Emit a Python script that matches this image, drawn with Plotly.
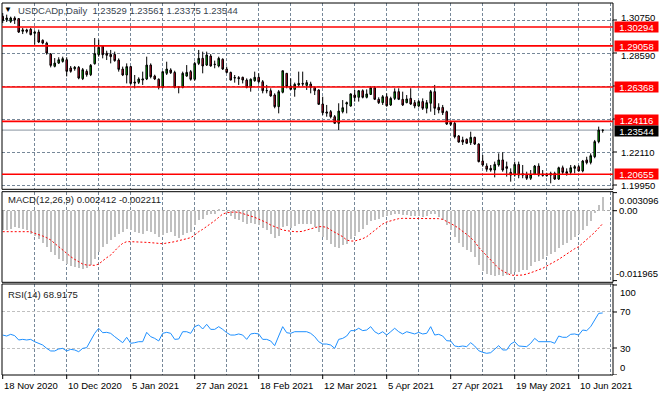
import plotly.graph_objects as go

# ---------------- data ----------------
open_ = [1.3099,1.3077,1.3066,1.3088,1.3084,1.3001,1.3010,1.3014,1.2988,1.2996,
1.2942,1.2924,1.2852,1.2772,1.2793,1.2804,1.2815,1.2761,1.2756,1.2765,
1.2691,1.2739,1.2717,1.2789,1.2848,1.2903,1.2857,1.2850,1.2850,1.2813,
1.2754,1.2715,1.2770,1.2669,1.2667,1.2682,1.2689,1.2780,1.2708,1.2687,
1.2634,1.2726,1.2748,1.2732,1.2634,1.2634,1.2708,1.2737,1.2687,1.2791,
1.2824,1.2780,1.2839,1.2783,1.2774,1.2818,1.2754,1.2732,1.2695,1.2698,
1.2700,1.2682,1.2634,1.2678,1.2700,1.2671,1.2612,1.2612,1.2584,1.2508,
1.2602,1.2726,1.2643,1.2621,1.2650,1.2660,1.2647,1.2656,1.2634,1.2617,
1.2525,1.2473,1.2475,1.2442,1.2399,1.2475,1.2525,1.2512,1.2584,1.2569,
1.2612,1.2569,1.2588,1.2632,1.2556,1.2534,1.2573,1.2519,1.2562,1.2606,
1.2556,1.2534,1.2562,1.2534,1.2512,1.2541,1.2497,1.2530,1.2606,1.2503,
1.2503,1.2475,1.2405,1.2399,1.2316,1.2290,1.2294,1.2272,1.2307,1.2263,
1.2152,1.2119,1.2104,1.2093,1.2126,1.2159,1.2115,1.2078,1.2060,1.2130,
1.2069,1.2065,1.2039,1.2065,1.2119,1.2067,1.2067,1.2071,1.2071,1.2034,
1.2108,1.2082,1.2078,1.2104,1.2115,1.2087,1.2159,1.2143,1.2180,1.2279,
1.23529]
high_ = [1.3121,1.3110,1.3097,1.3099,1.3088,1.3023,1.3018,1.3023,1.3005,1.3012,
1.2948,1.2933,1.2859,1.2826,1.2831,1.2835,1.2831,1.2774,1.2774,1.2774,
1.2761,1.2752,1.2787,1.2957,1.2946,1.2911,1.2874,1.2879,1.2868,1.2824,
1.2770,1.2791,1.2774,1.2715,1.2700,1.2737,1.2835,1.2791,1.2717,1.2693,
1.2737,1.2802,1.2759,1.2743,1.2643,1.2737,1.2780,1.2748,1.2802,1.2879,
1.2868,1.2868,1.2852,1.2809,1.2835,1.2824,1.2770,1.2737,1.2715,1.2708,
1.2704,1.2693,1.2693,1.2737,1.2726,1.2682,1.2650,1.2628,1.2595,1.2617,
1.2743,1.2728,1.2693,1.2665,1.2737,1.2737,1.2682,1.2671,1.2639,1.2621,
1.2573,1.2519,1.2486,1.2453,1.2530,1.2551,1.2541,1.2595,1.2617,1.2617,
1.2621,1.2621,1.2643,1.2643,1.2569,1.2584,1.2595,1.2573,1.2628,1.2628,
1.2606,1.2584,1.2628,1.2551,1.2551,1.2562,1.2551,1.2617,1.2650,1.2530,
1.2519,1.2482,1.2410,1.2410,1.2322,1.2311,1.2300,1.2344,1.2311,1.2268,
1.2191,1.2137,1.2126,1.2148,1.2202,1.2209,1.2148,1.2104,1.2148,1.2148,
1.2126,1.2082,1.2093,1.2126,1.2137,1.2093,1.2075,1.2082,1.2082,1.2115,
1.2122,1.2104,1.2126,1.2126,1.2126,1.2159,1.2180,1.2202,1.2290,1.2377,
1.23561]
low_ = [1.3055,1.3062,1.3055,1.3049,1.2990,1.2983,1.2988,1.2975,1.2914,1.2924,
1.2916,1.2848,1.2765,1.2765,1.2787,1.2796,1.2706,1.2730,1.2743,1.2687,
1.2682,1.2704,1.2708,1.2783,1.2835,1.2824,1.2813,1.2791,1.2802,1.2737,
1.2708,1.2660,1.2652,1.2628,1.2656,1.2650,1.2682,1.2693,1.2682,1.2621,
1.2628,1.2715,1.2722,1.2628,1.2595,1.2628,1.2704,1.2678,1.2678,1.2780,
1.2726,1.2774,1.2770,1.2759,1.2765,1.2748,1.2726,1.2680,1.2665,1.2650,
1.2660,1.2628,1.2606,1.2671,1.2660,1.2595,1.2595,1.2573,1.2497,1.2464,
1.2595,1.2628,1.2617,1.2573,1.2639,1.2643,1.2617,1.2595,1.2584,1.2519,
1.2453,1.2442,1.2431,1.2397,1.2355,1.2464,1.2464,1.2508,1.2541,1.2541,
1.2562,1.2562,1.2584,1.2551,1.2525,1.2519,1.2508,1.2512,1.2551,1.2551,
1.2512,1.2530,1.2519,1.2497,1.2503,1.2486,1.2464,1.2475,1.2453,1.2464,
1.2453,1.2388,1.2381,1.2300,1.2272,1.2257,1.2263,1.2257,1.2257,1.2143,
1.2115,1.2082,1.2082,1.2045,1.2115,1.2082,1.2050,1.2017,1.2050,1.2039,
1.2039,1.2028,1.2028,1.2060,1.2050,1.2050,1.2050,1.2006,1.2028,1.2028,
1.2065,1.2056,1.2060,1.2071,1.2082,1.2078,1.2130,1.2130,1.2170,1.2268,
1.23375]
close_ = [1.3071,1.3088,1.3088,1.3075,1.2996,1.3010,1.3001,1.2979,1.2996,1.2931,
1.2924,1.2859,1.2778,1.2793,1.2815,1.2822,1.2739,1.2739,1.2765,1.2695,
1.2750,1.2717,1.2778,1.2855,1.2896,1.2848,1.2844,1.2835,1.2809,1.2752,
1.2715,1.2770,1.2660,1.2663,1.2689,1.2689,1.2780,1.2704,1.2689,1.2634,
1.2737,1.2754,1.2730,1.2634,1.2635,1.2726,1.2732,1.2687,1.2791,1.2824,
1.2774,1.2846,1.2774,1.2785,1.2824,1.2754,1.2732,1.2682,1.2698,1.2691,
1.2682,1.2634,1.2687,1.2700,1.2671,1.2612,1.2613,1.2578,1.2508,1.2606,
1.2743,1.2639,1.2621,1.2654,1.2660,1.2656,1.2665,1.2634,1.2612,1.2523,
1.2468,1.2466,1.2442,1.2399,1.2479,1.2501,1.2534,1.2591,1.2567,1.2612,
1.2569,1.2591,1.2632,1.2556,1.2534,1.2573,1.2514,1.2562,1.2606,1.2556,
1.2519,1.2558,1.2525,1.2512,1.2541,1.2497,1.2534,1.2606,1.2497,1.2486,
1.2468,1.2394,1.2392,1.2311,1.2276,1.2276,1.2268,1.2307,1.2263,1.2148,
1.2126,1.2098,1.2093,1.2130,1.2159,1.2093,1.2104,1.2060,1.2130,1.2060,
1.2060,1.2039,1.2065,1.2119,1.2060,1.2058,1.2056,1.2060,1.2034,1.2108,
1.2078,1.2071,1.2108,1.2115,1.2087,1.2152,1.2141,1.2187,1.2279,1.2355,
1.23544]

macd_hist = [-0.00319,-0.00319,-0.00302,-0.00273,-0.00285,-0.00302,-0.00319,-0.00388,-0.00433,-0.00473,
-0.00547,-0.00616,-0.00702,-0.00759,-0.00816,-0.00856,-0.00913,-0.00947,-0.00958,-0.00981,
-0.00993,-0.00970,-0.00930,-0.00816,-0.00702,-0.00616,-0.00559,-0.00502,-0.00445,-0.00388,
-0.00359,-0.00302,-0.00330,-0.00359,-0.00376,-0.00388,-0.00342,-0.00359,-0.00388,-0.00445,
-0.00416,-0.00376,-0.00359,-0.00433,-0.00456,-0.00416,-0.00376,-0.00359,-0.00245,-0.00159,
-0.00131,-0.00074,-0.00057,-0.00045,0.00041,0.00000,-0.00034,-0.00091,-0.00131,-0.00159,
-0.00188,-0.00216,-0.00205,-0.00216,-0.00245,-0.00285,-0.00330,-0.00388,-0.00456,-0.00433,
-0.00273,-0.00262,-0.00285,-0.00262,-0.00228,-0.00216,-0.00216,-0.00228,-0.00273,-0.00359,
-0.00445,-0.00502,-0.00559,-0.00616,-0.00627,-0.00587,-0.00559,-0.00473,-0.00433,-0.00359,
-0.00302,-0.00245,-0.00171,-0.00148,-0.00131,-0.00102,-0.00091,-0.00074,-0.00057,-0.00057,
-0.00074,-0.00074,-0.00079,-0.00091,-0.00091,-0.00102,-0.00091,-0.00045,-0.00057,-0.00102,
-0.00159,-0.00245,-0.00330,-0.00445,-0.00547,-0.00616,-0.00673,-0.00702,-0.00787,-0.00930,
-0.01027,-0.01073,-0.01101,-0.01118,-0.01101,-0.01118,-0.01101,-0.01084,-0.01044,-0.01044,
-0.01015,-0.01004,-0.00947,-0.00873,-0.00856,-0.00816,-0.00776,-0.00741,-0.00702,-0.00627,
-0.00587,-0.00547,-0.00490,-0.00445,-0.00399,-0.00319,-0.00262,-0.00171,-0.00034,0.00098,
0.002412]
macd_signal = [-0.00359,-0.00359,-0.00359,-0.00359,-0.00359,-0.00359,-0.00359,-0.00359,-0.00388,-0.00405,
-0.00433,-0.00462,-0.00502,-0.00559,-0.00616,-0.00684,-0.00730,-0.00787,-0.00833,-0.00873,
-0.00913,-0.00930,-0.00935,-0.00935,-0.00913,-0.00856,-0.00804,-0.00759,-0.00684,-0.00616,
-0.00559,-0.00530,-0.00530,-0.00530,-0.00536,-0.00536,-0.00542,-0.00547,-0.00547,-0.00559,
-0.00565,-0.00559,-0.00542,-0.00530,-0.00513,-0.00502,-0.00485,-0.00462,-0.00416,-0.00359,
-0.00319,-0.00273,-0.00216,-0.00171,-0.00114,-0.00057,-0.00034,-0.00022,-0.00022,-0.00028,
-0.00045,-0.00062,-0.00091,-0.00114,-0.00142,-0.00171,-0.00205,-0.00245,-0.00273,-0.00308,
-0.00330,-0.00342,-0.00353,-0.00359,-0.00359,-0.00353,-0.00330,-0.00308,-0.00291,-0.00273,
-0.00273,-0.00285,-0.00330,-0.00370,-0.00405,-0.00445,-0.00502,-0.00519,-0.00519,-0.00502,
-0.00479,-0.00445,-0.00388,-0.00342,-0.00285,-0.00228,-0.00193,-0.00171,-0.00148,-0.00136,
-0.00131,-0.00131,-0.00131,-0.00131,-0.00131,-0.00131,-0.00131,-0.00131,-0.00131,-0.00136,
-0.00148,-0.00182,-0.00216,-0.00256,-0.00302,-0.00348,-0.00405,-0.00462,-0.00530,-0.00627,
-0.00702,-0.00776,-0.00844,-0.00913,-0.00987,-0.01033,-0.01073,-0.01101,-0.01107,-0.01107,
-0.01101,-0.01084,-0.01067,-0.01038,-0.01010,-0.00987,-0.00947,-0.00913,-0.00873,-0.00833,
-0.00787,-0.00741,-0.00690,-0.00650,-0.00616,-0.00559,-0.00502,-0.00433,-0.00370,-0.00296,
-0.002211]
rsi = [44.4,43.3,45.2,43.7,38.9,39.6,38.9,39.6,37.0,35.2,
33.3,29.6,26.7,26.7,28.9,29.6,26.7,28.5,27.8,25.9,
29.6,30.4,38.9,46.3,51.9,47.0,47.4,46.3,42.6,38.9,
35.9,41.9,35.2,35.9,37.0,37.0,47.4,42.6,40.7,37.8,
46.3,47.4,46.3,39.6,40.0,48.1,48.1,46.3,53.7,55.6,
51.1,56.3,50.7,50.7,53.7,50.7,47.0,44.4,44.4,45.6,
44.4,39.6,45.6,46.3,45.6,39.6,39.6,37.8,32.6,43.3,
53.7,47.0,46.3,48.1,48.1,48.1,48.1,46.3,42.6,37.0,
34.4,34.4,33.3,29.6,39.6,40.7,43.3,49.3,49.3,51.9,
49.3,50.0,53.7,48.1,45.6,48.1,44.4,48.1,51.9,48.1,
45.6,48.1,47.0,45.6,47.4,45.6,46.3,53.7,44.4,45.2,
43.3,38.1,37.8,32.2,31.5,32.2,31.5,35.9,32.2,27.0,
25.2,24.1,24.8,28.5,32.6,27.8,27.8,34.4,37.0,32.2,
32.2,31.5,35.2,40.7,37.0,37.0,37.8,37.0,35.2,43.3,
41.9,41.9,45.2,45.6,44.4,50.0,49.3,53.7,61.1,68.5,
68.9175]

date_labels = ["18 Nov 2020", "10 Dec 2020", "5 Jan 2021", "27 Jan 2021", "18 Feb 2021",
               "12 Mar 2021", "5 Apr 2021", "27 Apr 2021", "19 May 2021", "10 Jun 2021"]
date_label_bars = [0, 16, 32, 48, 64, 80, 96, 112, 128, 144]
grid_bars = list(range(8, 153, 8))
grid_prices = [1.19950, 1.22110, 1.24270, 1.26430, 1.28590, 1.30750]
grid_price_labels = [1.19950, 1.22110, 1.28590, 1.30750]   # the others sit under level boxes
level_prices = [1.30294, 1.29058, 1.26368, 1.24116, 1.20655]
last_price = 1.23544
macd_scale_labels = [0.003096, 0.0, -0.011965]
rsi_scale_labels = [100, 70, 30, 0]
header_symbol = "USDCADp,Daily"
macd_title = "MACD(12,26,9) 0.002412 -0.002211"
rsi_title = "RSI(14) 68.9175"

# ---------------- geometry ----------------
W, H = 659, 396
ML, MR, MT, MB = 2, 46, 3, 21
PW = W - ML - MR
PH = H - MT - MB

def px(x):
    return (x - ML) / PW

def py(y):
    return (H - MB - y) / PH

main_dom = [py(189.3), 1.0]
macd_dom = [py(282.3), py(191.7)]
rsi_dom = [0.0, py(284)]
X_RANGE = [-0.175, 152.575]

FONT = "Liberation Sans, Arial, sans-serif"
FS = 9.5
GRID = "#778899"
bars = list(range(len(close_)))

fig = go.Figure()
fig.add_trace(go.Candlestick(
    x=bars, open=open_, high=high_, low=low_, close=close_,
    xaxis="x", yaxis="y", whiskerwidth=0, hoverinfo="skip",
    increasing=dict(line=dict(color="black", width=1), fillcolor="#00b000"),
    decreasing=dict(line=dict(color="black", width=1), fillcolor="#e0102f"),
    showlegend=False))
fig.add_trace(go.Bar(x=bars, y=macd_hist, xaxis="x2", yaxis="y2", width=0.28,
                     marker=dict(color="#c0c0c0", line=dict(width=0)),
                     hoverinfo="skip", showlegend=False))
fig.add_trace(go.Scatter(x=bars, y=macd_signal, xaxis="x2", yaxis="y2", mode="lines",
                         line=dict(color="red", width=1, dash="2px,2px"),
                         hoverinfo="skip", showlegend=False))
fig.add_trace(go.Scatter(x=bars, y=rsi, xaxis="x3", yaxis="y3", mode="lines",
                         line=dict(color="#1e90ff", width=1),
                         hoverinfo="skip", showlegend=False))

common_x = dict(range=X_RANGE, showticklabels=False, tickvals=grid_bars, showgrid=True,
                gridcolor=GRID, griddash="3px,2px", gridwidth=1, zeroline=False,
                showline=False, ticks="", domain=[0, 1])
common_y = dict(showticklabels=False, showgrid=True, griddash="3px,2px", gridwidth=1,
                zeroline=False, showline=False, ticks="")

shapes = []
for dom in (main_dom, macd_dom, rsi_dom):
    shapes.append(dict(type="rect", xref="paper", yref="paper", x0=0, x1=1, y0=dom[0], y1=dom[1],
                       line=dict(color="black", width=1), fillcolor="rgba(0,0,0,0)", layer="above"))
shapes.append(dict(type="line", xref="paper", yref="y", x0=0, x1=1, y0=last_price, y1=last_price,
                   line=dict(color="#8894a0", width=1), layer="between"))
for p in level_prices:
    shapes.append(dict(type="line", xref="paper", yref="y", x0=0, x1=1, y0=p, y1=p,
                       line=dict(color="red", width=1.6), layer="above"))
# right-side tick marks
for p in grid_prices:
    shapes.append(dict(type="line", xref="paper", yref="y", x0=1, x1=px(617), y0=p, y1=p,
                       line=dict(color="black", width=1)))
for v in macd_scale_labels:
    shapes.append(dict(type="line", xref="paper", yref="y2", x0=1, x1=px(617), y0=v, y1=v,
                       line=dict(color="black", width=1)))
for v in rsi_scale_labels:
    shapes.append(dict(type="line", xref="paper", yref="y3", x0=1, x1=px(617), y0=v, y1=v,
                       line=dict(color="black", width=1)))
for b in date_label_bars:
    shapes.append(dict(type="line", xref="x3", yref="paper", x0=b, x1=b, y0=0, y1=py(379),
                       line=dict(color="black", width=1)))

ann = []
def txt(text, x, y, xref="paper", yref="paper", xanchor="left", yanchor="middle",
        color="black", size=FS, **kw):
    d = dict(text=text, x=x, y=y, xref=xref, yref=yref, xanchor=xanchor, yanchor=yanchor,
             showarrow=False, font=dict(family=FONT, size=size, color=color))
    d.update(kw)
    ann.append(d)

# price scale labels (main); nudge the two that sit next to level boxes
label_shift = {1.30750: 3, 1.28590: -2}
for p in grid_price_labels:
    txt(f"{p:.5f}", px(619), p, yref="y", yshift=label_shift.get(p, 0))
box_shift = {1.24116: 1}
for p in level_prices:
    txt(f"{p:.5f}", px(614), p, yref="y", color="white", bgcolor="#ff0000",
        width=43, height=10, borderpad=0, align="center", yshift=box_shift.get(p, 0))
txt(f"{last_price:.5f}", px(614), last_price, yref="y", color="white", bgcolor="black",
    width=43, height=10, borderpad=0, align="center", yshift=-1)

# MACD scale
txt(f"{macd_scale_labels[0]:.6f}", px(617), macd_scale_labels[0], yref="y2", yanchor="top")
txt("0.00", px(617), 0.0, yref="y2")
txt(f"{macd_scale_labels[2]:.6f}", px(614), macd_scale_labels[2], yref="y2", yanchor="bottom")
# RSI scale
txt("100", px(618), 100, yref="y3", yanchor="top")
txt("70", px(618), 70, yref="y3")
txt("30", px(618), 30, yref="y3")
txt("0", px(618), 0, yref="y3", yanchor="bottom")

# titles
txt("\u25BC", px(2), py(10), size=8)
txt(header_symbol + "\u00a0\u00a0" + " ".join(f"{v:.5f}" for v in (open_[-1], high_[-1], low_[-1], close_[-1])),
    px(16), py(11), color="#3a4550")
txt(macd_title, px(6), py(199), color="#222")
txt(rsi_title, px(6), py(294), color="#222")

# dates
for b, lab in zip(date_label_bars, date_labels):
    txt(lab, b, py(385), xref="x3", xshift=-1)

fig.update_layout(
    width=W, height=H, margin=dict(l=ML, r=MR, t=MT, b=MB),
    paper_bgcolor="white", plot_bgcolor="white", showlegend=False,
    boxgap=0.45, bargap=0,
    xaxis=dict(common_x, anchor="y", rangeslider=dict(visible=False)),
    xaxis2=dict(common_x, anchor="y2"),
    xaxis3=dict(common_x, anchor="y3"),
    yaxis=dict(common_y, domain=main_dom, range=[1.19669, 1.31863], tickvals=grid_prices,
               gridcolor=GRID, anchor="x"),
    yaxis2=dict(common_y, domain=macd_dom, range=[-0.012254, 0.003252], tickvals=[0],
                gridcolor="#a9a9a9", anchor="x2"),
    yaxis3=dict(common_y, domain=rsi_dom, range=[0, 101.1], tickvals=[30, 70],
                gridcolor="#c0c0c0", anchor="x3"),
    shapes=shapes, annotations=ann,
)

fig.write_html("out.html", config={"displayModeBar": False},
               post_script="document.body.style.margin='0';document.body.style.padding='0';document.body.style.overflow='hidden';")
